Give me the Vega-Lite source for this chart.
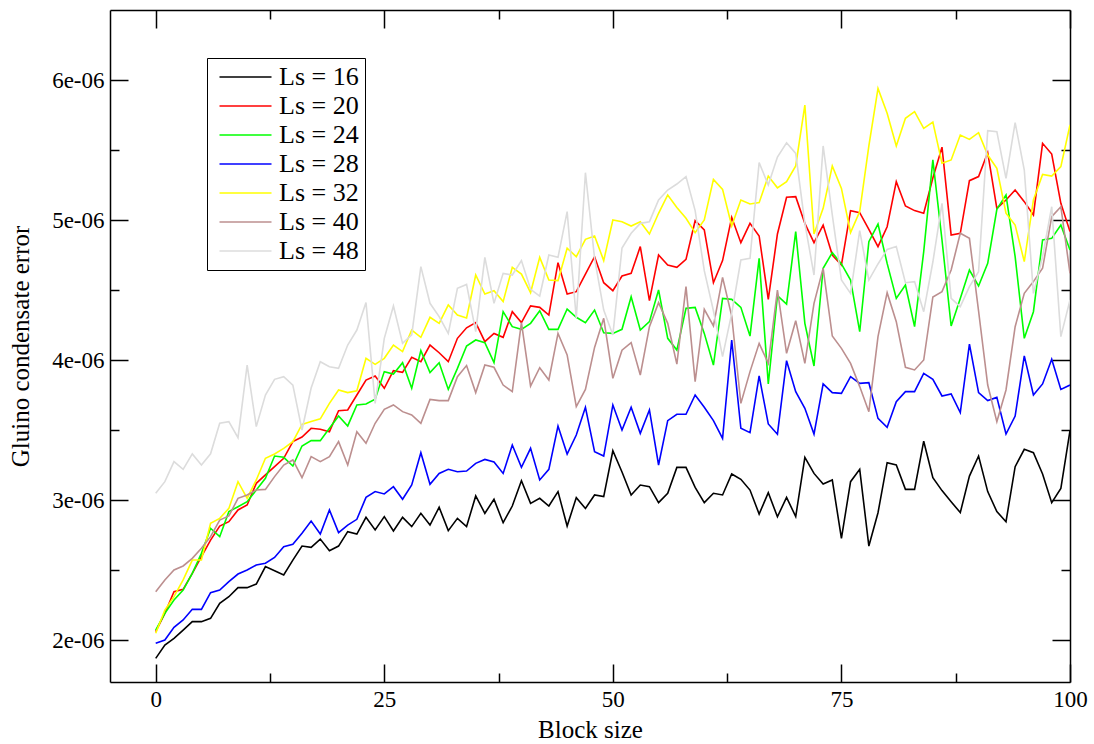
{
"$schema": "https://vega.github.io/schema/vega-lite/v6.json",
"width": 960, "height": 672,
"autosize": "none",
"padding": {"left": 110, "top": 10, "right": 24, "bottom": 62},
"background": "white",
"config": {
  "view": {"stroke": null},
  "font": "Liberation Serif",
  "axis": {"grid": false, "domainColor": "black", "domainWidth": 1.5, "tickColor": "black", "tickWidth": 1.5,
           "labelFont": "Liberation Serif", "labelFontSize": 23, "labelColor": "black",
           "titleFont": "Liberation Serif", "titleFontSize": 25, "titleFontWeight": "normal", "titleColor": "black"}
},
"data": {"values": [
{"block":0,"Ls16":1.869e-6,"Ls20":2.060e-6,"Ls24":2.071e-6,"Ls28":1.976e-6,"Ls32":2.048e-6,"Ls40":2.345e-6,"Ls48":3.048e-6},
{"block":1,"Ls16":1.964e-6,"Ls20":2.190e-6,"Ls24":2.190e-6,"Ls28":2.000e-6,"Ls32":2.214e-6,"Ls40":2.429e-6,"Ls48":3.131e-6},
{"block":2,"Ls16":2.012e-6,"Ls20":2.345e-6,"Ls24":2.286e-6,"Ls28":2.090e-6,"Ls32":2.310e-6,"Ls40":2.500e-6,"Ls48":3.274e-6},
{"block":3,"Ls16":2.071e-6,"Ls20":2.362e-6,"Ls24":2.357e-6,"Ls28":2.143e-6,"Ls32":2.429e-6,"Ls40":2.529e-6,"Ls48":3.219e-6},
{"block":4,"Ls16":2.131e-6,"Ls20":2.476e-6,"Ls24":2.476e-6,"Ls28":2.219e-6,"Ls32":2.571e-6,"Ls40":2.583e-6,"Ls48":3.329e-6},
{"block":5,"Ls16":2.131e-6,"Ls20":2.595e-6,"Ls24":2.619e-6,"Ls28":2.219e-6,"Ls32":2.571e-6,"Ls40":2.655e-6,"Ls48":3.250e-6},
{"block":6,"Ls16":2.155e-6,"Ls20":2.714e-6,"Ls24":2.798e-6,"Ls28":2.338e-6,"Ls32":2.833e-6,"Ls40":2.738e-6,"Ls48":3.330e-6},
{"block":7,"Ls16":2.262e-6,"Ls20":2.814e-6,"Ls24":2.738e-6,"Ls28":2.357e-6,"Ls32":2.869e-6,"Ls40":2.857e-6,"Ls48":3.548e-6},
{"block":8,"Ls16":2.309e-6,"Ls20":2.845e-6,"Ls24":2.917e-6,"Ls28":2.417e-6,"Ls32":2.940e-6,"Ls40":2.886e-6,"Ls48":3.560e-6},
{"block":9,"Ls16":2.374e-6,"Ls20":2.929e-6,"Ls24":2.952e-6,"Ls28":2.471e-6,"Ls32":3.131e-6,"Ls40":3.012e-6,"Ls48":3.445e-6},
{"block":10,"Ls16":2.374e-6,"Ls20":2.964e-6,"Ls24":2.988e-6,"Ls28":2.500e-6,"Ls32":3.012e-6,"Ls40":3.036e-6,"Ls48":3.964e-6},
{"block":11,"Ls16":2.400e-6,"Ls20":3.119e-6,"Ls24":3.071e-6,"Ls28":2.536e-6,"Ls32":3.143e-6,"Ls40":3.071e-6,"Ls48":3.524e-6},
{"block":12,"Ls16":2.524e-6,"Ls20":3.179e-6,"Ls24":3.155e-6,"Ls28":2.548e-6,"Ls32":3.298e-6,"Ls40":3.076e-6,"Ls48":3.750e-6},
{"block":13,"Ls16":2.495e-6,"Ls20":3.238e-6,"Ls24":3.314e-6,"Ls28":2.590e-6,"Ls32":3.329e-6,"Ls40":3.167e-6,"Ls48":3.862e-6},
{"block":14,"Ls16":2.464e-6,"Ls20":3.298e-6,"Ls24":3.305e-6,"Ls28":2.667e-6,"Ls32":3.369e-6,"Ls40":3.250e-6,"Ls48":3.881e-6},
{"block":15,"Ls16":2.571e-6,"Ls20":3.417e-6,"Ls24":3.243e-6,"Ls28":2.683e-6,"Ls32":3.417e-6,"Ls40":3.286e-6,"Ls48":3.821e-6},
{"block":16,"Ls16":2.671e-6,"Ls20":3.450e-6,"Ls24":3.386e-6,"Ls28":2.762e-6,"Ls32":3.540e-6,"Ls40":3.159e-6,"Ls48":3.500e-6},
{"block":17,"Ls16":2.662e-6,"Ls20":3.512e-6,"Ls24":3.424e-6,"Ls28":2.850e-6,"Ls32":3.560e-6,"Ls40":3.310e-6,"Ls48":3.800e-6},
{"block":18,"Ls16":2.721e-6,"Ls20":3.505e-6,"Ls24":3.424e-6,"Ls28":2.757e-6,"Ls32":3.580e-6,"Ls40":3.274e-6,"Ls48":3.988e-6},
{"block":19,"Ls16":2.638e-6,"Ls20":3.488e-6,"Ls24":3.512e-6,"Ls28":2.929e-6,"Ls32":3.690e-6,"Ls40":3.310e-6,"Ls48":3.952e-6},
{"block":20,"Ls16":2.671e-6,"Ls20":3.638e-6,"Ls24":3.600e-6,"Ls28":2.767e-6,"Ls32":3.786e-6,"Ls40":3.417e-6,"Ls48":3.940e-6},
{"block":21,"Ls16":2.774e-6,"Ls20":3.643e-6,"Ls24":3.529e-6,"Ls28":2.821e-6,"Ls32":3.767e-6,"Ls40":3.250e-6,"Ls48":4.107e-6},
{"block":22,"Ls16":2.757e-6,"Ls20":3.750e-6,"Ls24":3.679e-6,"Ls28":2.862e-6,"Ls32":3.780e-6,"Ls40":3.488e-6,"Ls48":4.214e-6},
{"block":23,"Ls16":2.876e-6,"Ls20":3.857e-6,"Ls24":3.686e-6,"Ls28":3.019e-6,"Ls32":4.012e-6,"Ls40":3.405e-6,"Ls48":4.410e-6},
{"block":24,"Ls16":2.786e-6,"Ls20":3.886e-6,"Ls24":3.720e-6,"Ls28":3.060e-6,"Ls32":3.969e-6,"Ls40":3.548e-6,"Ls48":3.690e-6},
{"block":25,"Ls16":2.881e-6,"Ls20":3.798e-6,"Ls24":3.917e-6,"Ls28":3.043e-6,"Ls32":4.012e-6,"Ls40":3.648e-6,"Ls48":4.155e-6},
{"block":26,"Ls16":2.779e-6,"Ls20":3.924e-6,"Ls24":3.900e-6,"Ls28":3.095e-6,"Ls32":4.107e-6,"Ls40":3.679e-6,"Ls48":4.386e-6},
{"block":27,"Ls16":2.876e-6,"Ls20":3.912e-6,"Ls24":3.981e-6,"Ls28":3.005e-6,"Ls32":4.060e-6,"Ls40":3.631e-6,"Ls48":4.119e-6},
{"block":28,"Ls16":2.810e-6,"Ls20":4.019e-6,"Ls24":3.798e-6,"Ls28":3.107e-6,"Ls32":4.214e-6,"Ls40":3.607e-6,"Ls48":4.179e-6},
{"block":29,"Ls16":2.905e-6,"Ls20":3.988e-6,"Ls24":4.067e-6,"Ls28":3.338e-6,"Ls32":4.162e-6,"Ls40":3.548e-6,"Ls48":4.667e-6},
{"block":30,"Ls16":2.821e-6,"Ls20":4.107e-6,"Ls24":3.910e-6,"Ls28":3.112e-6,"Ls32":4.305e-6,"Ls40":3.719e-6,"Ls48":4.405e-6},
{"block":31,"Ls16":2.948e-6,"Ls20":4.052e-6,"Ls24":3.981e-6,"Ls28":3.190e-6,"Ls32":4.262e-6,"Ls40":3.710e-6,"Ls48":4.310e-6},
{"block":32,"Ls16":2.781e-6,"Ls20":3.988e-6,"Ls24":3.790e-6,"Ls28":3.219e-6,"Ls32":4.393e-6,"Ls40":3.710e-6,"Ls48":4.190e-6},
{"block":33,"Ls16":2.869e-6,"Ls20":4.155e-6,"Ls24":3.940e-6,"Ls28":3.202e-6,"Ls32":4.321e-6,"Ls40":3.881e-6,"Ls48":4.512e-6},
{"block":34,"Ls16":2.810e-6,"Ls20":4.230e-6,"Ls24":4.100e-6,"Ls28":3.207e-6,"Ls32":4.300e-6,"Ls40":3.960e-6,"Ls48":4.540e-6},
{"block":35,"Ls16":3.029e-6,"Ls20":4.267e-6,"Ls24":4.143e-6,"Ls28":3.262e-6,"Ls32":4.607e-6,"Ls40":3.767e-6,"Ls48":4.202e-6},
{"block":36,"Ls16":2.905e-6,"Ls20":4.131e-6,"Ls24":4.124e-6,"Ls28":3.290e-6,"Ls32":4.471e-6,"Ls40":3.964e-6,"Ls48":4.733e-6},
{"block":37,"Ls16":3.005e-6,"Ls20":4.190e-6,"Ls24":3.981e-6,"Ls28":3.271e-6,"Ls32":4.495e-6,"Ls40":3.948e-6,"Ls48":4.405e-6},
{"block":38,"Ls16":2.838e-6,"Ls20":4.162e-6,"Ls24":4.345e-6,"Ls28":3.190e-6,"Ls32":4.417e-6,"Ls40":3.821e-6,"Ls48":4.619e-6},
{"block":39,"Ls16":2.957e-6,"Ls20":4.345e-6,"Ls24":4.238e-6,"Ls28":3.393e-6,"Ls32":4.662e-6,"Ls40":3.774e-6,"Ls48":4.607e-6},
{"block":40,"Ls16":3.138e-6,"Ls20":4.267e-6,"Ls24":4.219e-6,"Ls28":3.233e-6,"Ls32":4.614e-6,"Ls40":4.267e-6,"Ls48":4.710e-6},
{"block":41,"Ls16":2.976e-6,"Ls20":4.386e-6,"Ls24":4.262e-6,"Ls28":3.369e-6,"Ls32":4.481e-6,"Ls40":3.814e-6,"Ls48":4.505e-6},
{"block":42,"Ls16":3.012e-6,"Ls20":4.376e-6,"Ls24":4.352e-6,"Ls28":3.143e-6,"Ls32":4.733e-6,"Ls40":3.945e-6,"Ls48":4.457e-6},
{"block":43,"Ls16":2.957e-6,"Ls20":4.321e-6,"Ls24":4.219e-6,"Ls28":3.219e-6,"Ls32":4.571e-6,"Ls40":3.857e-6,"Ls48":4.750e-6},
{"block":44,"Ls16":3.060e-6,"Ls20":4.695e-6,"Ls24":4.219e-6,"Ls28":3.528e-6,"Ls32":4.567e-6,"Ls40":4.190e-6,"Ls48":4.733e-6},
{"block":45,"Ls16":2.814e-6,"Ls20":4.471e-6,"Ls24":4.364e-6,"Ls28":3.328e-6,"Ls32":4.798e-6,"Ls40":4.036e-6,"Ls48":5.060e-6},
{"block":46,"Ls16":3.017e-6,"Ls20":4.488e-6,"Ls24":4.305e-6,"Ls28":3.464e-6,"Ls32":4.738e-6,"Ls40":3.667e-6,"Ls48":4.298e-6},
{"block":47,"Ls16":2.940e-6,"Ls20":4.614e-6,"Ls24":4.267e-6,"Ls28":3.662e-6,"Ls32":4.862e-6,"Ls40":3.790e-6,"Ls48":5.338e-6},
{"block":48,"Ls16":3.036e-6,"Ls20":4.738e-6,"Ls24":4.357e-6,"Ls28":3.345e-6,"Ls32":4.886e-6,"Ls40":4.090e-6,"Ls48":4.726e-6},
{"block":49,"Ls16":3.024e-6,"Ls20":4.552e-6,"Ls24":4.195e-6,"Ls28":3.314e-6,"Ls32":4.710e-6,"Ls40":4.298e-6,"Ls48":4.357e-6},
{"block":50,"Ls16":3.352e-6,"Ls20":4.495e-6,"Ls24":4.190e-6,"Ls28":3.679e-6,"Ls32":5.000e-6,"Ls40":3.869e-6,"Ls48":4.179e-6},
{"block":51,"Ls16":3.200e-6,"Ls20":4.600e-6,"Ls24":4.219e-6,"Ls28":3.500e-6,"Ls32":4.988e-6,"Ls40":4.070e-6,"Ls48":4.800e-6},
{"block":52,"Ls16":3.036e-6,"Ls20":4.619e-6,"Ls24":4.452e-6,"Ls28":3.662e-6,"Ls32":4.957e-6,"Ls40":4.124e-6,"Ls48":4.905e-6},
{"block":53,"Ls16":3.107e-6,"Ls20":4.810e-6,"Ls24":4.214e-6,"Ls28":3.476e-6,"Ls32":4.988e-6,"Ls40":3.893e-6,"Ls48":4.976e-6},
{"block":54,"Ls16":3.095e-6,"Ls20":4.424e-6,"Ls24":4.274e-6,"Ls28":3.643e-6,"Ls32":4.900e-6,"Ls40":4.238e-6,"Ls48":4.988e-6},
{"block":55,"Ls16":2.981e-6,"Ls20":4.750e-6,"Ls24":4.500e-6,"Ls28":3.250e-6,"Ls32":5.048e-6,"Ls40":4.410e-6,"Ls48":5.143e-6},
{"block":56,"Ls16":3.048e-6,"Ls20":4.679e-6,"Ls24":4.155e-6,"Ls28":3.567e-6,"Ls32":5.179e-6,"Ls40":4.262e-6,"Ls48":5.214e-6},
{"block":57,"Ls16":3.233e-6,"Ls20":4.662e-6,"Ls24":4.071e-6,"Ls28":3.612e-6,"Ls32":5.090e-6,"Ls40":3.971e-6,"Ls48":5.257e-6},
{"block":58,"Ls16":3.233e-6,"Ls20":4.719e-6,"Ls24":4.369e-6,"Ls28":3.612e-6,"Ls32":5.012e-6,"Ls40":4.524e-6,"Ls48":5.310e-6},
{"block":59,"Ls16":3.090e-6,"Ls20":4.995e-6,"Ls24":4.376e-6,"Ls28":3.750e-6,"Ls32":4.910e-6,"Ls40":3.845e-6,"Ls48":5.067e-6},
{"block":60,"Ls16":2.981e-6,"Ls20":4.929e-6,"Ls24":4.190e-6,"Ls28":3.662e-6,"Ls32":5.000e-6,"Ls40":4.362e-6,"Ls48":4.638e-6},
{"block":61,"Ls16":3.048e-6,"Ls20":4.552e-6,"Ls24":3.964e-6,"Ls28":3.567e-6,"Ls32":5.290e-6,"Ls40":4.243e-6,"Ls48":4.352e-6},
{"block":62,"Ls16":3.036e-6,"Ls20":4.710e-6,"Ls24":4.440e-6,"Ls28":3.440e-6,"Ls32":5.219e-6,"Ls40":4.590e-6,"Ls48":4.024e-6},
{"block":63,"Ls16":3.186e-6,"Ls20":5.019e-6,"Ls24":4.433e-6,"Ls28":4.143e-6,"Ls32":4.957e-6,"Ls40":4.314e-6,"Ls48":4.333e-6},
{"block":64,"Ls16":3.148e-6,"Ls20":4.838e-6,"Ls24":4.376e-6,"Ls28":3.512e-6,"Ls32":5.143e-6,"Ls40":3.690e-6,"Ls48":4.714e-6},
{"block":65,"Ls16":3.071e-6,"Ls20":4.976e-6,"Ls24":4.171e-6,"Ls28":3.481e-6,"Ls32":5.114e-6,"Ls40":3.917e-6,"Ls48":4.726e-6},
{"block":66,"Ls16":2.900e-6,"Ls20":4.886e-6,"Ls24":4.726e-6,"Ls28":3.886e-6,"Ls32":5.124e-6,"Ls40":4.119e-6,"Ls48":5.410e-6},
{"block":67,"Ls16":3.052e-6,"Ls20":4.433e-6,"Ls24":3.829e-6,"Ls28":3.543e-6,"Ls32":5.314e-6,"Ls40":3.976e-6,"Ls48":5.250e-6},
{"block":68,"Ls16":2.880e-6,"Ls20":4.900e-6,"Ls24":4.460e-6,"Ls28":3.470e-6,"Ls32":5.230e-6,"Ls40":4.500e-6,"Ls48":5.450e-6},
{"block":69,"Ls16":3.019e-6,"Ls20":5.162e-6,"Ls24":4.400e-6,"Ls28":3.995e-6,"Ls32":5.274e-6,"Ls40":4.048e-6,"Ls48":5.552e-6},
{"block":70,"Ls16":2.881e-6,"Ls20":5.167e-6,"Ls24":4.917e-6,"Ls28":3.774e-6,"Ls32":5.386e-6,"Ls40":4.281e-6,"Ls48":5.476e-6},
{"block":71,"Ls16":3.305e-6,"Ls20":4.976e-6,"Ls24":4.262e-6,"Ls28":3.655e-6,"Ls32":5.821e-6,"Ls40":3.976e-6,"Ls48":4.976e-6},
{"block":72,"Ls16":3.190e-6,"Ls20":4.838e-6,"Ls24":3.957e-6,"Ls28":3.471e-6,"Ls32":4.900e-6,"Ls40":4.405e-6,"Ls48":4.607e-6},
{"block":73,"Ls16":3.114e-6,"Ls20":4.964e-6,"Ls24":4.655e-6,"Ls28":3.829e-6,"Ls32":5.083e-6,"Ls40":4.655e-6,"Ls48":5.529e-6},
{"block":74,"Ls16":3.143e-6,"Ls20":4.750e-6,"Ls24":4.767e-6,"Ls28":3.767e-6,"Ls32":5.386e-6,"Ls40":4.171e-6,"Ls48":5.036e-6},
{"block":75,"Ls16":2.726e-6,"Ls20":4.679e-6,"Ls24":4.686e-6,"Ls28":3.762e-6,"Ls32":5.226e-6,"Ls40":4.083e-6,"Ls48":4.571e-6},
{"block":76,"Ls16":3.131e-6,"Ls20":5.067e-6,"Ls24":4.571e-6,"Ls28":3.881e-6,"Ls32":4.910e-6,"Ls40":3.976e-6,"Ls48":4.476e-6},
{"block":77,"Ls16":3.219e-6,"Ls20":5.052e-6,"Ls24":4.202e-6,"Ls28":3.833e-6,"Ls32":5.060e-6,"Ls40":3.810e-6,"Ls48":4.924e-6},
{"block":78,"Ls16":2.671e-6,"Ls20":4.933e-6,"Ls24":4.845e-6,"Ls28":3.838e-6,"Ls32":5.529e-6,"Ls40":3.631e-6,"Ls48":4.571e-6},
{"block":79,"Ls16":2.909e-6,"Ls20":4.810e-6,"Ls24":4.971e-6,"Ls28":3.583e-6,"Ls32":5.940e-6,"Ls40":4.167e-6,"Ls48":4.686e-6},
{"block":80,"Ls16":3.267e-6,"Ls20":4.952e-6,"Ls24":4.690e-6,"Ls28":3.519e-6,"Ls32":5.762e-6,"Ls40":4.481e-6,"Ls48":4.790e-6},
{"block":81,"Ls16":3.250e-6,"Ls20":5.274e-6,"Ls24":4.440e-6,"Ls28":3.702e-6,"Ls32":5.529e-6,"Ls40":4.274e-6,"Ls48":4.810e-6},
{"block":82,"Ls16":3.076e-6,"Ls20":5.100e-6,"Ls24":4.536e-6,"Ls28":3.774e-6,"Ls32":5.726e-6,"Ls40":3.948e-6,"Ls48":4.552e-6},
{"block":83,"Ls16":3.076e-6,"Ls20":5.067e-6,"Ls24":4.238e-6,"Ls28":3.774e-6,"Ls32":5.774e-6,"Ls40":3.929e-6,"Ls48":4.560e-6},
{"block":84,"Ls16":3.420e-6,"Ls20":5.048e-6,"Ls24":4.774e-6,"Ls28":3.905e-6,"Ls32":5.655e-6,"Ls40":4.000e-6,"Ls48":4.345e-6},
{"block":85,"Ls16":3.160e-6,"Ls20":5.300e-6,"Ls24":5.430e-6,"Ls28":3.862e-6,"Ls32":5.700e-6,"Ls40":4.450e-6,"Ls48":4.700e-6},
{"block":86,"Ls16":3.067e-6,"Ls20":5.520e-6,"Ls24":4.857e-6,"Ls28":3.743e-6,"Ls32":5.405e-6,"Ls40":4.488e-6,"Ls48":5.119e-6},
{"block":87,"Ls16":2.988e-6,"Ls20":4.893e-6,"Ls24":4.243e-6,"Ls28":3.757e-6,"Ls32":5.429e-6,"Ls40":4.643e-6,"Ls48":4.440e-6},
{"block":88,"Ls16":2.910e-6,"Ls20":4.905e-6,"Ls24":4.440e-6,"Ls28":3.624e-6,"Ls32":5.607e-6,"Ls40":4.905e-6,"Ls48":4.381e-6},
{"block":89,"Ls16":3.171e-6,"Ls20":5.281e-6,"Ls24":4.643e-6,"Ls28":4.114e-6,"Ls32":5.576e-6,"Ls40":4.869e-6,"Ls48":4.524e-6},
{"block":90,"Ls16":3.314e-6,"Ls20":5.310e-6,"Ls24":4.529e-6,"Ls28":3.767e-6,"Ls32":5.624e-6,"Ls40":4.350e-6,"Ls48":4.631e-6},
{"block":91,"Ls16":3.060e-6,"Ls20":5.481e-6,"Ls24":4.690e-6,"Ls28":3.710e-6,"Ls32":5.464e-6,"Ls40":3.821e-6,"Ls48":5.638e-6},
{"block":92,"Ls16":2.917e-6,"Ls20":5.083e-6,"Ls24":5.076e-6,"Ls28":3.733e-6,"Ls32":5.369e-6,"Ls40":3.560e-6,"Ls48":5.631e-6},
{"block":93,"Ls16":2.845e-6,"Ls20":5.143e-6,"Ls24":5.179e-6,"Ls28":3.471e-6,"Ls32":5.048e-6,"Ls40":3.786e-6,"Ls48":5.298e-6},
{"block":94,"Ls16":3.238e-6,"Ls20":5.214e-6,"Ls24":4.738e-6,"Ls28":3.600e-6,"Ls32":4.964e-6,"Ls40":4.238e-6,"Ls48":5.695e-6},
{"block":95,"Ls16":3.362e-6,"Ls20":5.131e-6,"Ls24":4.155e-6,"Ls28":4.029e-6,"Ls32":4.703e-6,"Ls40":4.476e-6,"Ls48":5.357e-6},
{"block":96,"Ls16":3.338e-6,"Ls20":5.036e-6,"Ls24":4.345e-6,"Ls28":3.750e-6,"Ls32":5.143e-6,"Ls40":4.560e-6,"Ls48":4.476e-6},
{"block":97,"Ls16":3.186e-6,"Ls20":5.548e-6,"Ls24":4.857e-6,"Ls28":3.829e-6,"Ls32":5.326e-6,"Ls40":4.655e-6,"Ls48":4.738e-6},
{"block":98,"Ls16":2.981e-6,"Ls20":5.471e-6,"Ls24":4.869e-6,"Ls28":4.005e-6,"Ls32":5.314e-6,"Ls40":5.024e-6,"Ls48":5.095e-6},
{"block":99,"Ls16":3.083e-6,"Ls20":5.119e-6,"Ls24":4.964e-6,"Ls28":3.790e-6,"Ls32":5.381e-6,"Ls40":5.095e-6,"Ls48":4.167e-6},
{"block":100,"Ls16":3.495e-6,"Ls20":4.917e-6,"Ls24":4.786e-6,"Ls28":3.821e-6,"Ls32":5.679e-6,"Ls40":4.619e-6,"Ls48":4.429e-6}
]},
"transform": [{"fold": ["Ls16","Ls20","Ls24","Ls28","Ls32","Ls40","Ls48"], "as": ["series","error"]}],
"layer": [
  {
    "mark": {"type": "line", "strokeWidth": 1.6, "clip": true},
    "encoding": {
      "x": {"field": "block", "type": "quantitative",
            "scale": {"domain": [-5, 100], "nice": false, "zero": false},
            "axis": {"orient": "bottom", "title": "Block size",
                     "values": [0, 12.5, 25, 37.5, 50, 62.5, 75, 87.5, 100],
                     "labelExpr": "datum.value % 25 === 0 ? datum.label : ''",
                     "tickSize": {"condition": {"test": "datum.value % 25 === 0", "value": -18}, "value": -9},
                     "labelPadding": 24, "titlePadding": 6, "labelFlush": false}},
      "y": {"field": "error", "type": "quantitative",
            "scale": {"domain": [1.7e-6, 6.5e-6], "nice": false, "zero": false},
            "axis": {"orient": "left", "title": "Gluino condensate error",
                     "values": [2e-6, 2.5e-6, 3e-6, 3.5e-6, 4e-6, 4.5e-6, 5e-6, 5.5e-6, 6e-6],
                     "labelExpr": "round(datum.value*2e6) % 2 === 0 ? replace(format(datum.value, '.0e'), 'e-', 'e-0') : ''",
                     "tickSize": {"condition": {"test": "round(datum.value*2e6) % 2 === 0", "value": -18}, "value": -9},
                     "labelPadding": 24, "titlePadding": 18, "labelFlush": false}},
      "color": {"field": "series", "type": "nominal",
                "scale": {"domain": ["Ls16","Ls20","Ls24","Ls28","Ls32","Ls40","Ls48"],
                          "range": ["#000000","#ff0000","#00ff00","#0000ff","#ffff00","#bc8f8f","#dcdcdc"]},
                "legend": {"title": null, "orient": "none", "legendX": 97, "legendY": 48,
                           "symbolType": "M-1,0H7", "symbolSize": 169, "symbolStrokeWidth": 1.6,
                           "labelFont": "Liberation Serif", "labelFontSize": 26, "labelColor": "black",
                           "labelOffset": 40, "padding": 6, "rowPadding": 3,
                           "strokeColor": "black", "fillColor": "white",
                           "labelExpr": "'Ls = ' + slice(datum.label, 2)"}}
    }
  },
  {
    "mark": {"type": "point", "opacity": 0},
    "encoding": {
      "x": {"field": "block", "type": "quantitative",
            "scale": {"domain": [-5, 100], "nice": false, "zero": false},
            "axis": {"orient": "top", "title": null, "labels": false,
                     "values": [0, 12.5, 25, 37.5, 50, 62.5, 75, 87.5, 100],
                     "tickSize": {"condition": {"test": "datum.value % 25 === 0", "value": -18}, "value": -9}}},
      "y": {"field": "error", "type": "quantitative",
            "scale": {"domain": [1.7e-6, 6.5e-6], "nice": false, "zero": false},
            "axis": {"orient": "right", "title": null, "labels": false,
                     "values": [2e-6, 2.5e-6, 3e-6, 3.5e-6, 4e-6, 4.5e-6, 5e-6, 5.5e-6, 6e-6],
                     "tickSize": {"condition": {"test": "round(datum.value*2e6) % 2 === 0", "value": -18}, "value": -9}}}
    }
  }
],
"resolve": {"axis": {"x": "independent", "y": "independent"}}
}
